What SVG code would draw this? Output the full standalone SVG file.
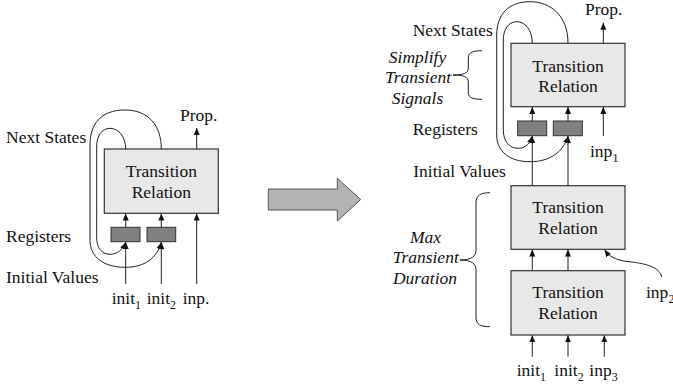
<svg xmlns="http://www.w3.org/2000/svg" width="673" height="387" viewBox="0 0 673 387" font-family="'Liberation Serif', 'Times New Roman', serif" font-size="17.5">
<defs>
<marker id="ah" markerUnits="userSpaceOnUse" markerWidth="8" markerHeight="7" refX="7" refY="3" orient="auto">
<path d="M0,0 L7,3 L0,6 z" fill="#111"/>
</marker>
<style>
text{font-family:'Liberation Serif','Times New Roman',serif;font-size:17.5px;fill:#111}
.c{text-anchor:middle}
.i{font-style:italic}
tspan.s{font-size:12px}
.box{fill:#e8e8e8;stroke:#333;stroke-width:1.2}
.reg{fill:#808080;stroke:#333;stroke-width:1}
.ln{fill:none;stroke:#222;stroke-width:1}
.ar{fill:none;stroke:#222;stroke-width:1;marker-end:url(#ah)}
</style>
</defs>
<rect width="673" height="387" fill="#fff"/>

<!-- Left diagram -->
<g id="left-tr">
<rect class="box" x="104.3" y="149" width="114" height="64.3"/>
<text class="c" x="161.3" y="177.3">Transition</text>
<text class="c" x="161.3" y="198.3">Relation</text>
</g>
<g id="left-reg1"><rect class="reg" x="111" y="227.3" width="29" height="14.4"/></g>
<g id="left-reg2"><rect class="reg" x="147" y="227.3" width="28.7" height="14.4"/></g>
<g id="left-labels">
<text x="6" y="142.7">Next States</text>
<text x="6" y="241.7">Registers</text>
<text x="6" y="283.3">Initial Values</text>
<text x="180" y="120.7">Prop.</text>
<text x="111.7" y="304">init<tspan class="s" dy="5">1</tspan></text>
<text x="146.7" y="304">init<tspan class="s" dy="5">2</tspan></text>
<text x="182.7" y="304">inp.</text>
</g>

<!-- Big arrow -->
<g id="big-arrow">
<path d="M268.3,189 L337.3,189 L337.3,178.3 L360.7,199.5 L337.3,221 L337.3,210 L268.3,210 z" fill="#b3b3b3" stroke="#555" stroke-width="1"/>
</g>

<!-- Right diagram -->
<g id="right-tr-top">
<rect class="box" x="511" y="43.3" width="114" height="63.4"/>
<text class="c" x="568" y="71.7">Transition</text>
<text class="c" x="568" y="91.7">Relation</text>
</g>
<g id="right-reg1"><rect class="reg" x="517.7" y="121" width="29" height="14.7"/></g>
<g id="right-reg2"><rect class="reg" x="553.3" y="121" width="29" height="14.7"/></g>
<g id="right-tr-mid">
<rect class="box" x="511" y="185.7" width="114" height="63.6"/>
<text class="c" x="568" y="213.3">Transition</text>
<text class="c" x="568" y="234">Relation</text>
</g>
<g id="right-tr-bot">
<rect class="box" x="511" y="270.7" width="114" height="64.3"/>
<text class="c" x="568" y="298.3">Transition</text>
<text class="c" x="568" y="319.3">Relation</text>
</g>
<g id="right-labels">
<text x="412.7" y="36">Next States</text>
<text x="412.7" y="135">Registers</text>
<text x="413.3" y="176.7">Initial Values</text>
<text x="585" y="14.5">Prop.</text>
<text x="590" y="156.7">inp<tspan class="s" dy="5">1</tspan></text>
<text x="646" y="298.3">inp<tspan class="s" dy="5">2</tspan></text>
<text x="516.7" y="376">init<tspan class="s" dy="5">1</tspan></text>
<text x="554.3" y="376">init<tspan class="s" dy="5">2</tspan></text>
<text x="589.3" y="376">inp<tspan class="s" dy="5">3</tspan></text>
<text class="c i" x="417.5" y="62.7">Simplify</text>
<text class="c i" x="418" y="83.3">Transient</text>
<text class="c i" x="417.5" y="104">Signals</text>
<text class="c i" x="425.5" y="242.7">Max</text>
<text class="c i" x="425.7" y="262.7">Transient</text>
<text class="c i" x="425" y="284.3">Duration</text>
</g>

<g id="connectors">
<!-- left -->
<line class="ar" x1="196.7" y1="149" x2="196.7" y2="128"/>
<line class="ar" x1="125.7" y1="227.3" x2="125.7" y2="213.5"/>
<line class="ar" x1="161.3" y1="227.3" x2="161.3" y2="213.5"/>
<line class="ar" x1="196.7" y1="284" x2="196.7" y2="213.5"/>
<line class="ar" x1="125.7" y1="284" x2="125.7" y2="242"/>
<line class="ar" x1="161.3" y1="284" x2="161.3" y2="242"/>
<path class="ar" d="M125.7,149 C125.7,136 118,128.3 110,128.3 C102,128.3 96.7,136 96.7,146 L96.7,238 C96.7,248 102,254.3 110,254.3 C118,254.3 123,249 125.7,242.2"/>
<path class="ar" d="M161.3,149 C161.3,125 148,110 125,110 C100,110 90,125 90,145 L90,240 C90,258 105,267.3 125,267.3 C145,267.3 157,258 161.3,242.2"/>
<!-- right -->
<line class="ar" x1="603.3" y1="43.3" x2="603.3" y2="22.7"/>
<line class="ar" x1="532.3" y1="121" x2="532.3" y2="107"/>
<line class="ar" x1="568" y1="121" x2="568" y2="107"/>
<line class="ar" x1="603.3" y1="136" x2="603.3" y2="107"/>
<line class="ar" x1="532.3" y1="185.7" x2="532.3" y2="136"/>
<line class="ar" x1="568" y1="185.7" x2="568" y2="136"/>
<path class="ar" d="M532.3,43.3 C532.3,30 525,21.7 517,21.7 C508,21.7 503.3,30 503.3,40 L503.3,130 C503.3,142 510,148.3 518,148.3 C526,148.3 530,143 532.3,136.2"/>
<path class="ar" d="M568,43.3 C568,15 550,1.7 530,1.7 C508,1.7 496.7,15 496.7,35 L496.7,135 C496.7,152 510,161.7 530,161.7 C550,161.7 563,152 568,136.2"/>
<line class="ar" x1="532.3" y1="270.7" x2="532.3" y2="249.6"/>
<line class="ar" x1="568" y1="270.7" x2="568" y2="249.6"/>
<path class="ar" d="M661.7,277 C660,266 642,263 627,261.5 C615,260 609,256 604.6,249.8"/>
<line class="ar" x1="532.3" y1="356.7" x2="532.3" y2="335.3"/>
<line class="ar" x1="568" y1="356.7" x2="568" y2="335.3"/>
<line class="ar" x1="604.3" y1="356.7" x2="604.3" y2="335.3"/>
<!-- braces -->
<path class="ln" d="M482,50.7 C474,50.7 468.3,52 468.3,58 L468.3,68 C468.3,73 464,75 453,75 C464,75 468.3,77 468.3,82 L468.3,93 C468.3,98 474,99.3 482,99.3"/>
<path class="ln" d="M490,192.7 C481,192.7 476,195 476,203 L476,250 C476,256 472,260 460,260 C472,260 476,264 476,270 L476,317 C476,325 481,326.7 490,326.7"/>
</g>
</svg>
